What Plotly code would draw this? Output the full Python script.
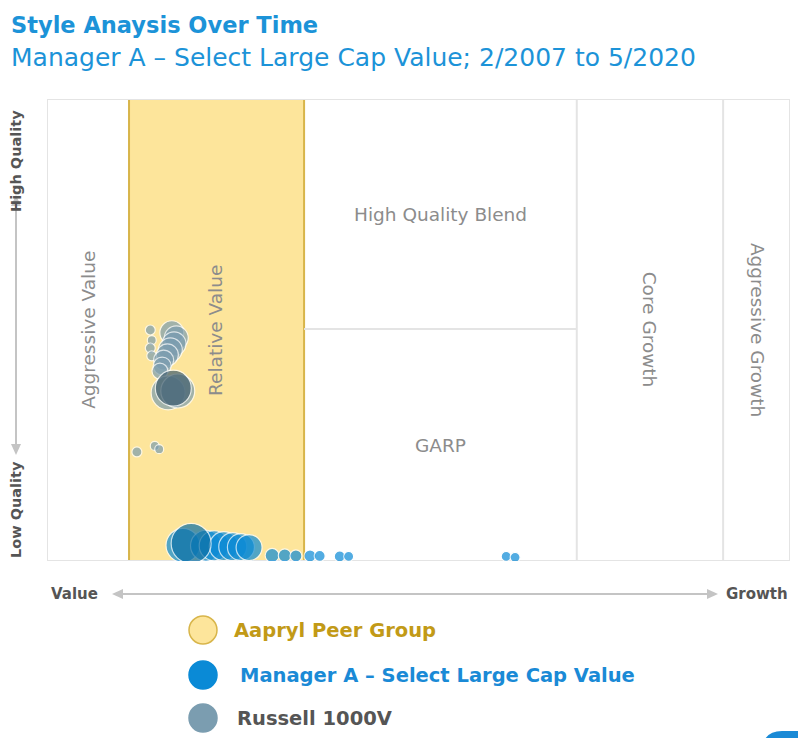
import plotly.graph_objects as go

# ---- data (x: value->growth score 0-100, y: low->high quality 0-100, size: bubble diameter)
mgr_x = [18.3, 21.4, 22.5, 23.8, 25.0, 26.1, 27.2, 30.3, 32.0, 33.5, 35.4, 36.7, 39.4, 40.6, 61.8, 63.0]
mgr_y = [3.4, 3.3, 3.3, 3.2, 3.1, 3.0, 2.9, 1.2, 1.2, 1.1, 1.1, 1.1, 1.0, 1.0, 1.0, 0.8]
mgr_s = [34, 31, 30, 29, 28, 27, 26, 14, 13, 12, 12, 11, 11, 10, 10, 10]
mgr_cur_x = [19.4]
mgr_cur_y = [3.8]
mgr_cur_s = [40]

rus_x = [12.1, 14.5, 15.1, 13.9, 14.1, 13.9, 14.1, 16.8, 17.4, 17.1, 16.6, 16.2, 15.7, 15.5, 15.2, 16.3, 17.6]
rus_y = [23.6, 24.9, 24.2, 50.0, 47.8, 46.1, 44.4, 49.4, 48.3, 47.0, 45.7, 44.6, 43.5, 42.2, 41.1, 36.4, 36.8]
rus_s = [10, 9, 9, 10, 9, 10, 10, 24, 24, 24, 24, 22, 20, 18, 16, 34, 34]
rus_cur_x = [17.0]
rus_cur_y = [37.4]
rus_cur_s = [36]

# style zones
peer_x = [11.04, 34.6]
zone_lines_x = [34.6, 71.3, 91.0]
garp_split_y = 50.2
zone_labels = ["Aggressive Value", "Relative Value", "High Quality Blend", "GARP", "Core Growth", "Aggressive Growth"]
zone_label_x = [5.5, 22.6, 53.0, 53.0, 81.2, 95.7]
zone_label_y = [50.0, 50.0, 75.0, 25.0, 50.0, 50.0]
zone_label_rot = [-90, -90, 0, 0, 90, 90]

legend_names = ["Aapryl Peer Group", "Manager A \u2013 Select Large Cap Value", "Russell 1000V"]

BLUE = "#0a8ad6"
BLUE_DARK = "#0b6fa6"
GREY = "#7b9db0"
GREY_DARK = "#3f5d6e"
TITLE_BLUE = "#1c93d8"
ARROW = "#c4c4c4"
FONT = "DejaVu Sans"

fig = go.Figure()

fig.add_trace(go.Scatter(x=rus_x, y=rus_y, mode="markers",
                         marker=dict(size=rus_s, color=GREY, line=dict(color="white", width=1.2)),
                         showlegend=False, hoverinfo="skip"))
fig.add_trace(go.Scatter(x=rus_cur_x, y=rus_cur_y, mode="markers",
                         marker=dict(size=rus_cur_s, color=GREY_DARK, line=dict(color="white", width=1.2)),
                         showlegend=False, hoverinfo="skip"))
fig.add_trace(go.Scatter(x=mgr_x, y=mgr_y, mode="markers",
                         marker=dict(size=mgr_s, color=BLUE, line=dict(color="white", width=1.2)),
                         showlegend=False, hoverinfo="skip"))
fig.add_trace(go.Scatter(x=mgr_cur_x, y=mgr_cur_y, mode="markers",
                         marker=dict(size=mgr_cur_s, color=BLUE_DARK, line=dict(color="white", width=1.2)),
                         showlegend=False, hoverinfo="skip"))

shapes = []
# peer group box
shapes.append(dict(type="rect", xref="x", yref="y", x0=peer_x[0], x1=peer_x[1], y0=0, y1=100,
                   fillcolor="#fde59b", line=dict(color="#d8b54a", width=2), layer="below"))
# zone dividers
for zx in zone_lines_x[1:]:
    shapes.append(dict(type="line", xref="x", yref="y", x0=zx, x1=zx, y0=0, y1=100,
                       line=dict(color="#e4e4e4", width=2), layer="below"))
shapes.append(dict(type="line", xref="x", yref="y", x0=zone_lines_x[0], x1=zone_lines_x[1],
                   y0=garp_split_y, y1=garp_split_y, line=dict(color="#e4e4e4", width=2), layer="below"))
# frame
shapes.append(dict(type="rect", xref="x", yref="y", x0=0, x1=100, y0=0, y1=100,
                   line=dict(color="#e4e4e4", width=2), layer="below"))

# paper-coordinate helpers (plot area: x 47..790, y 99..561 px)
L, R, T, B = 47, 790, 99, 561
def px(x):
    return (x - L) / (R - L)
def py(y):
    return (B - y) / (B - T)

def poly(pts, color):
    d = "M " + " L ".join(f"{px(a)},{py(b)}" for a, b in pts) + " Z"
    return dict(type="path", xref="paper", yref="paper", path=d, fillcolor=color, line=dict(width=0))

# axis arrows (bars + heads)
shapes.append(poly([(120, 593), (710, 593), (710, 595), (120, 595)], ARROW))
shapes.append(poly([(112, 594), (123, 589), (123, 599)], ARROW))
shapes.append(poly([(718, 594), (707, 589), (707, 599)], ARROW))
shapes.append(poly([(15, 203), (17, 203), (17, 447), (15, 447)], ARROW))
shapes.append(poly([(16, 195), (11, 206), (21, 206)], ARROW))
shapes.append(poly([(16, 455), (11, 444), (21, 444)], ARROW))

# legend circles
leg_cols = [("#fde59b", "#d8b54a"), (BLUE, BLUE), (GREY, GREY)]
leg_y = [630, 675, 718]
for (fc, lc), ly in zip(leg_cols, leg_y):
    shapes.append(dict(type="circle", xref="paper", yref="paper",
                       x0=px(189), x1=px(217), y0=py(ly + 14), y1=py(ly - 14),
                       fillcolor=fc, line=dict(color=lc, width=1.5)))

# bottom-right partial badge
shapes.append(dict(type="path", xref="paper", yref="paper",
                   path=f"M {px(765)},{py(739)} Q {px(770)},{py(731)} {px(782)},{py(731)} L {px(800)},{py(731)} L {px(800)},{py(739)} Z",
                   fillcolor="#1a8ad6", line=dict(width=0)))

annotations = []
for t, x, y, r in zip(zone_labels, zone_label_x, zone_label_y, zone_label_rot):
    annotations.append(dict(text=t, x=x, y=y, xref="x", yref="y", showarrow=False,
                            xanchor="center", yanchor="middle",
                            textangle=r, font=dict(family=FONT, size=18.5, color="#8c8c8c")))

def lab(text, x, y, size, color, angle=0, xanchor="center", bold=True):
    return dict(text=f"<b>{text}</b>" if bold else text, x=px(x), y=py(y), xref="paper", yref="paper",
                xanchor=xanchor, yanchor="middle", showarrow=False, textangle=angle,
                font=dict(family=FONT, size=size, color=color))

annotations.append(lab("Value", 74, 594, 15, "#555555"))
annotations.append(lab("Growth", 757, 594, 15, "#555555"))
annotations.append(lab("High Quality", 16, 161, 14.5, "#555555", angle=-90))
annotations.append(lab("Low Quality", 16, 510, 14.5, "#555555", angle=-90))

# titles
annotations.append(lab("Style Anaysis Over Time", 9, 25, 22.5, TITLE_BLUE, xanchor="left"))
annotations.append(lab("Manager A \u2013 Select Large Cap Value; 2/2007 to 5/2020", 9, 57, 25, TITLE_BLUE,
                       xanchor="left", bold=False))

# legend texts
leg_text_x = [232, 238, 235]
leg_text_col = ["#c29a17", "#1a8ad6", "#555555"]
for t, lx, ly, c in zip(legend_names, leg_text_x, leg_y, leg_text_col):
    annotations.append(lab(t, lx, ly, 19.5, c, xanchor="left"))

fig.update_layout(
    width=798, height=738,
    margin=dict(l=L, r=798 - R, t=T, b=738 - B),
    paper_bgcolor="white", plot_bgcolor="white",
    xaxis=dict(range=[0, 100], showgrid=False, zeroline=False, showticklabels=False, fixedrange=True),
    yaxis=dict(range=[0, 100], showgrid=False, zeroline=False, showticklabels=False, fixedrange=True),
    shapes=shapes, annotations=annotations, showlegend=False,
)

fig.write_html("out.html")
